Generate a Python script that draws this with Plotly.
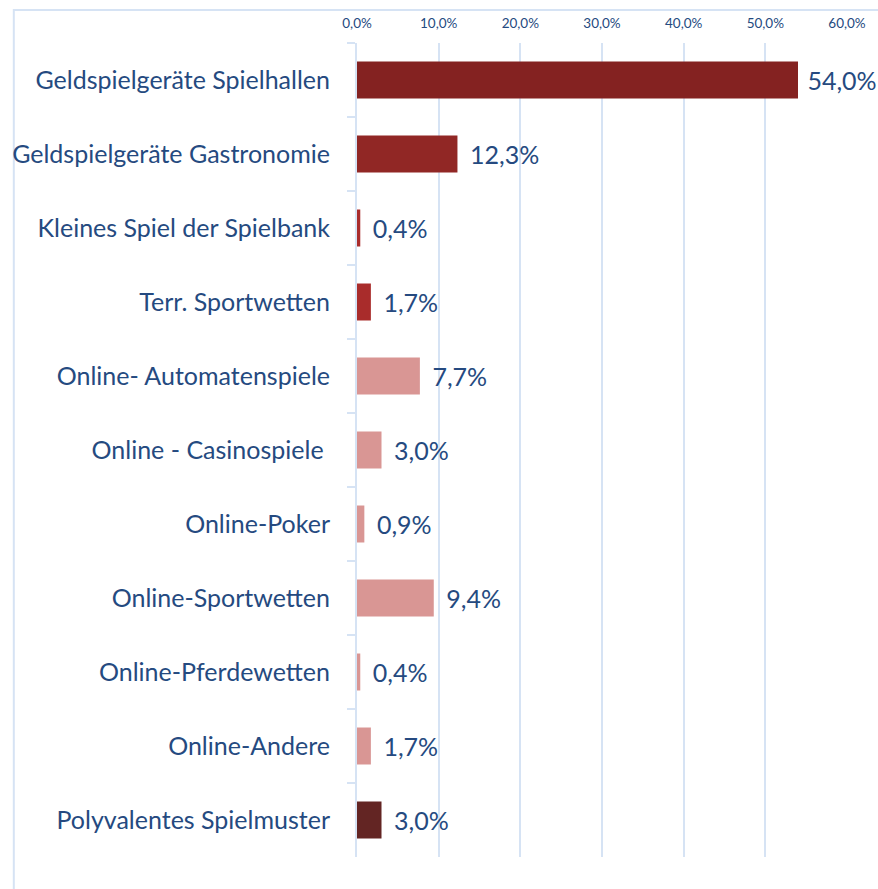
import plotly.graph_objects as go

categories = [
    "Geldspielgeräte Spielhallen",
    "Geldspielgeräte Gastronomie",
    "Kleines Spiel der Spielbank",
    "Terr. Sportwetten",
    "Online- Automatenspiele",
    "Online - Casinospiele ",
    "Online-Poker",
    "Online-Sportwetten",
    "Online-Pferdewetten",
    "Online-Andere",
    "Polyvalentes Spielmuster",
]
values = [54.0, 12.3, 0.4, 1.7, 7.7, 3.0, 0.9, 9.4, 0.4, 1.7, 3.0]
bar_colors = [
    "#842221", "#912725", "#a92c2b", "#a92c2b",
    "#d99694", "#d99694", "#d99694", "#d99694", "#d99694", "#d99694",
    "#632523",
]
x_ticks = [0, 10, 20, 30, 40, 50, 60]
x_tick_labels = ["0,0%", "10,0%", "20,0%", "30,0%", "40,0%", "50,0%", "60,0%"]

TEXT = "#254a80"
GRID = "#d6e3f4"

L, R, T, B = 355, 29, 43, 32
W, H = 878, 889
pw = W - L - R
ph = H - T - B

templates = [" %{x:.1f}%"] + [" \u2009%{x:.1f}%"] * (len(values) - 1)

fig = go.Figure(go.Bar(
    x=values, y=categories, orientation="h",
    marker=dict(color=bar_colors, line=dict(width=0)),
    texttemplate=templates, textposition="outside",
    textfont=dict(size=25, color=TEXT, family="Lato"),
    cliponaxis=False, constraintext="none",
))

fig.update_layout(
    width=W, height=H,
    margin=dict(l=L, r=R, t=T, b=B),
    paper_bgcolor="white", plot_bgcolor="white",
    separators=",.",
    bargap=0.5,
    showlegend=False,
    font=dict(family="Lato", color=TEXT),
    xaxis=dict(
        side="top", range=[0, 60], tickvals=x_ticks, ticktext=x_tick_labels,
        tickfont=dict(size=13.5, color=TEXT),
        showgrid=True, gridcolor=GRID, gridwidth=2,
        zeroline=False, showline=False, ticks="",
        ticklabelstandoff=11,
    ),
    yaxis=dict(
        autorange="reversed",
        tickfont=dict(size=25, color=TEXT),
        showline=True, linecolor=GRID, linewidth=2,
        ticks="outside", tickson="boundaries", ticklen=8, tickcolor=GRID, tickwidth=2,
        ticklabelstandoff=20,
        showgrid=False,
    ),
    shapes=[dict(
        type="rect", xref="paper", yref="paper",
        x0=(9 - L) / pw, x1=1.2, y0=-0.2, y1=(H - B - 10) / ph,
        line=dict(color=GRID, width=2), layer="below",
    )],
)

fig.write_html(
    "out.html",
    config={"displayModeBar": False},
    post_script="document.body.style.margin='0';document.body.style.overflow='hidden';",
)
